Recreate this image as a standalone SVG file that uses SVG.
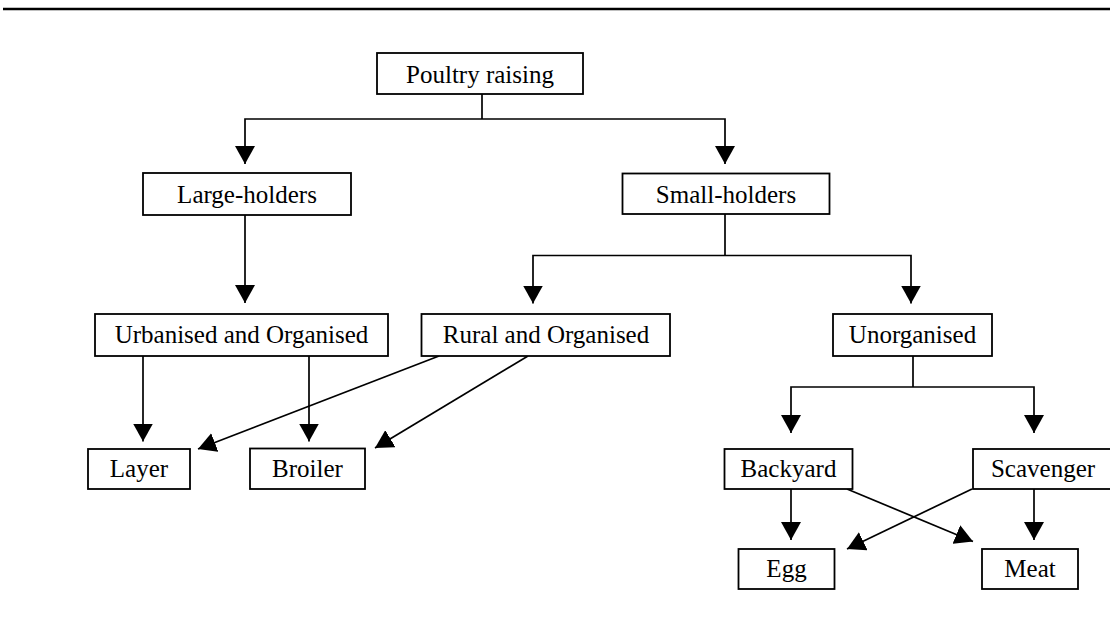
<svg xmlns="http://www.w3.org/2000/svg" width="1110" height="625" viewBox="0 0 1110 625">
<style>
.box{fill:#fff;stroke:#000;stroke-width:1.8}
.lbl{font-family:"Liberation Serif","Times New Roman",serif;font-size:25px;fill:#000;text-anchor:middle}
.ln{fill:none;stroke:#000;stroke-width:1.7}
.ar{fill:none;stroke:#000;stroke-width:1.7;marker-end:url(#ah)}
</style>
<defs>
<marker id="ah" markerUnits="userSpaceOnUse" markerWidth="20" markerHeight="20" refX="18" refY="10" orient="auto" viewBox="0 0 20 20">
<path d="M0,0 L18,10 L0,20 Z" fill="#000"/>
</marker>
</defs>
<rect width="1110" height="625" fill="#fff"/>
<line x1="3" y1="9" x2="1110" y2="9" stroke="#000" stroke-width="2.4"/>
<g id="connectors">
<polyline class="ln" points="482,94 482,119"/>
<polyline class="ar" points="482,119 245,119 245,164"/>
<polyline class="ar" points="482,119 725,119 725,164"/>
<polyline class="ar" points="245,215 245,303"/>
<polyline class="ln" points="725,214 725,255.5"/>
<polyline class="ar" points="725,255.5 533,255.5 533,303.5"/>
<polyline class="ar" points="725,255.5 911,255.5 911,303.5"/>
<polyline class="ar" points="143,356 143,441.5"/>
<polyline class="ar" points="309,356 309,441.5"/>
<line class="ar" x1="439" y1="356" x2="198" y2="449"/>
<line class="ar" x1="528" y1="356" x2="375" y2="448"/>
<polyline class="ln" points="913,356 913,387"/>
<polyline class="ar" points="913,387 791,387 791,433"/>
<polyline class="ar" points="913,387 1034,387 1034,433"/>
<polyline class="ar" points="791,489 791,540"/>
<polyline class="ar" points="1034,489 1034,540"/>
<line class="ar" x1="847" y1="489" x2="973" y2="541.5"/>
<line class="ar" x1="972" y1="489" x2="847" y2="549"/>
</g>
<g id="poultry"><rect class="box" x="377" y="53" width="206" height="41"/><text class="lbl" x="480" y="82.5">Poultry raising</text></g>
<g id="large"><rect class="box" x="143" y="173" width="208" height="42"/><text class="lbl" x="247" y="202.5">Large-holders</text></g>
<g id="small"><rect class="box" x="622.5" y="173.5" width="207" height="40.5"/><text class="lbl" x="726" y="202.5">Small-holders</text></g>
<g id="urban"><rect class="box" x="95" y="314" width="293" height="42"/><text class="lbl" x="241.5" y="343">Urbanised and Organised</text></g>
<g id="rural"><rect class="box" x="421.5" y="314" width="248.5" height="42"/><text class="lbl" x="546" y="343">Rural and Organised</text></g>
<g id="unorg"><rect class="box" x="833" y="314" width="159" height="42"/><text class="lbl" x="912.5" y="343">Unorganised</text></g>
<g id="layer"><rect class="box" x="88" y="449" width="102" height="40"/><text class="lbl" x="139" y="477">Layer</text></g>
<g id="broiler"><rect class="box" x="250" y="448.5" width="115" height="40.5"/><text class="lbl" x="307.5" y="477">Broiler</text></g>
<g id="backyard"><rect class="box" x="724.5" y="449" width="128" height="40"/><text class="lbl" x="788.5" y="477">Backyard</text></g>
<g id="scavenger"><rect class="box" x="973" y="449" width="140" height="40"/><text class="lbl" x="1043" y="477">Scavenger</text></g>
<g id="egg"><rect class="box" x="738.5" y="549" width="96" height="40"/><text class="lbl" x="786.5" y="577">Egg</text></g>
<g id="meat"><rect class="box" x="982" y="549" width="96" height="40"/><text class="lbl" x="1030" y="577">Meat</text></g>
</svg>
